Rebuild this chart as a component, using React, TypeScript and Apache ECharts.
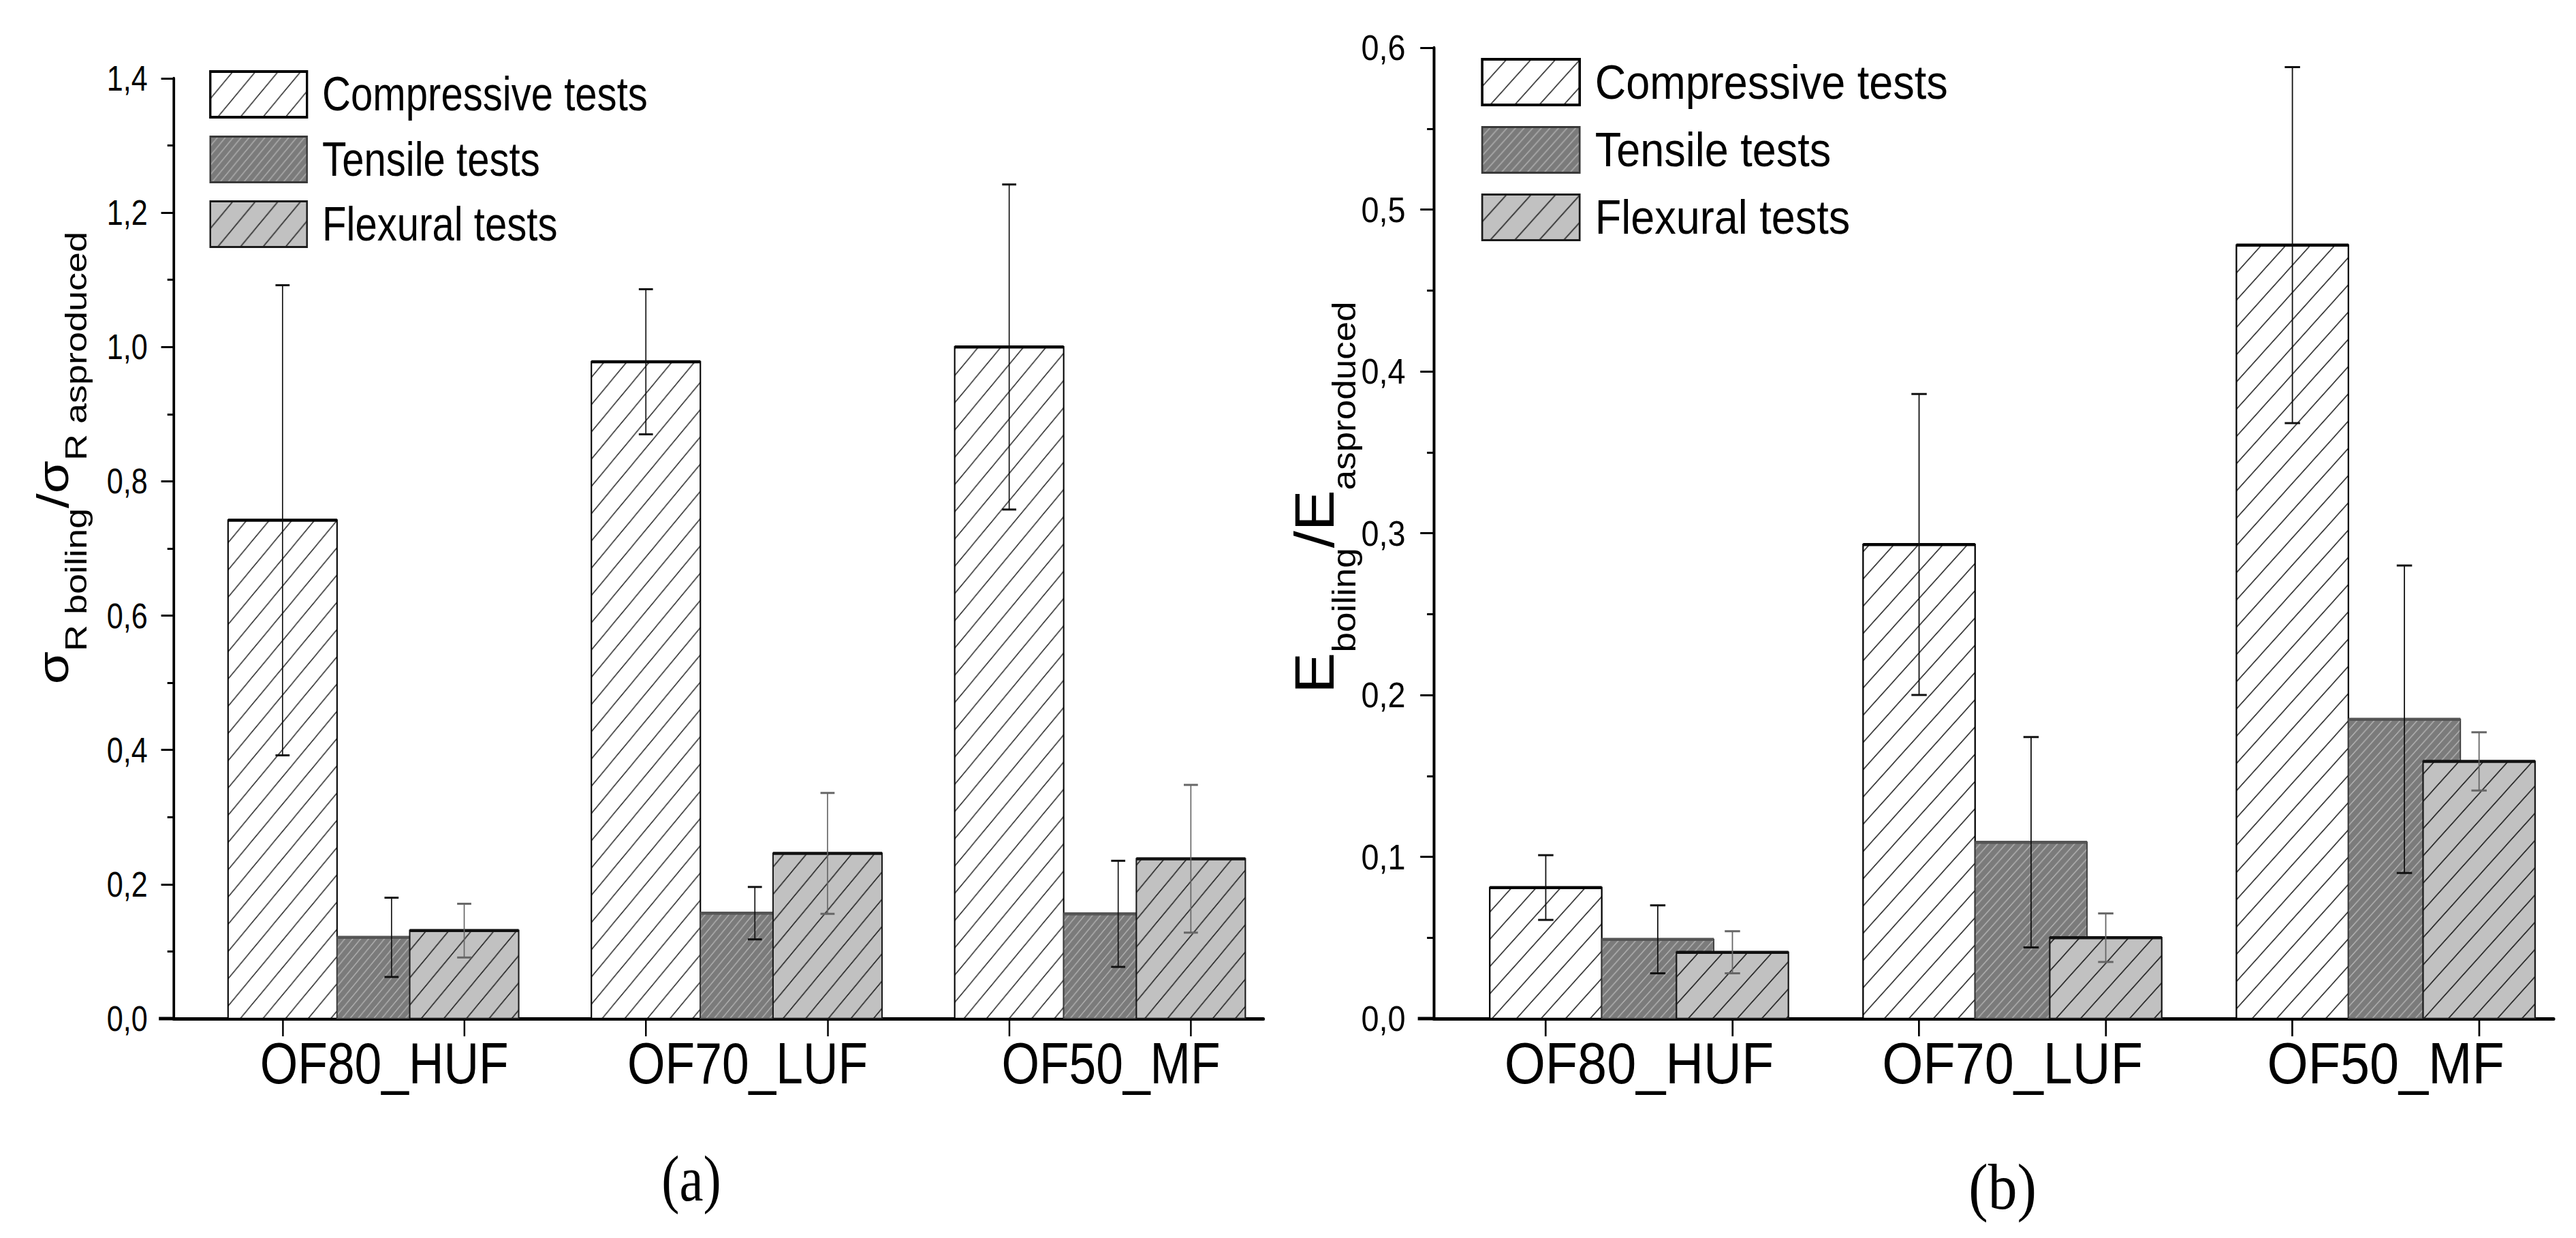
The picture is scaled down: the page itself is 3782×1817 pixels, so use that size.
import React, { useEffect, useRef } from "react";
import * as echarts from "echarts";

// ---------- data ----------
const categories = ["OF80_HUF", "OF70_LUF", "OF50_MF"];
const seriesNames = ["Compressive tests", "Tensile tests", "Flexural tests"];

// (a) sigma_R boiling / sigma_R asproduced
const compStrength = [0.742, 0.978, 1.0];
const compStrengthErr = [0.35, 0.108, 0.242];
const tensStrength = [0.121, 0.157, 0.156];
const tensStrengthErr = [0.059, 0.039, 0.079];
const flexStrength = [0.131, 0.246, 0.238];
const flexStrengthErr = [0.04, 0.09, 0.11];

// (b) E boiling / E asproduced
const compModulus = [0.081, 0.293, 0.478];
const compModulusErr = [0.02, 0.093, 0.11];
const tensModulus = [0.049, 0.109, 0.185];
const tensModulusErr = [0.021, 0.065, 0.095];
const flexModulus = [0.041, 0.05, 0.159];
const flexModulusErr = [0.013, 0.015, 0.018];

const yLabelsA = ["0,0", "0,2", "0,4", "0,6", "0,8", "1,0", "1,2", "1,4"];
const yLabelsB = ["0,0", "0,1", "0,2", "0,3", "0,4", "0,5", "0,6"];

// ---------- layout ----------
const H = 1817;
const FONT = "'Liberation Sans', Arial, Helvetica, sans-serif";
const SERIF = "'Liberation Serif', 'DejaVu Serif', serif";
const GROUP_START = [1, 3, 5];
const OFFSETS = [0, 0.6, 1.0];
const BAR_W = 0.6;
const TICKS_X = [1, 2, 3, 4, 5, 6];

// panel A (left) and panel B (right) are horizontally squashed differently
const PANEL_A = { left: 0, width: 1880, sx: 0.83 };
const PANEL_B = { left: 1880, width: 1902, sx: 0.9 };

function makeHatch(size: number, bg: string, line: string, lw: number) {
  const c = document.createElement("canvas");
  c.width = size;
  c.height = size;
  const ctx = c.getContext("2d")!;
  ctx.fillStyle = bg;
  ctx.fillRect(0, 0, size, size);
  ctx.strokeStyle = line;
  ctx.lineWidth = lw;
  ctx.beginPath();
  for (const k of [0, 1, 2]) {
    const s = size * k;
    ctx.moveTo(s - size - 4, size + 4);
    ctx.lineTo(s + 4, -4);
  }
  ctx.stroke();
  return { image: c.toDataURL(), repeat: "repeat", imageWidth: size, imageHeight: size } as any;
}

type PanelCfg = {
  grid: { left: number; top: number; width: number; height: number };
  yMax: number;
  yInterval: number;
  yLabels: string[];
  labelOff: number;
  values: number[][];
  errors: number[][];
  legend: { left: number; top: number; iconW: number; gap: number; textPad: number };
  title: { x: number; y: number; text: string; big: number; sub: number; lh: number };
  tag: { x: number; y: number; text: string };
};

function buildOption(cfg: PanelCfg) {
  const patComp = makeHatch(40, "#ffffff", "#2a2a2a", 1.6);
  const patTens = makeHatch(14, "#7b7b7b", "#b8b8b8", 1.4);
  const patFlex = makeHatch(40, "#c1c1c1", "#1e1e1e", 1.6);

  const styles = [
    { fill: patComp, stroke: "#000", lw: 2.5, top: "#000", err: "#111" },
    { fill: patTens, stroke: "#3a3a3a", lw: 2, top: "#555", err: "#111" },
    { fill: patFlex, stroke: "#1a1a1a", lw: 2.5, top: "#111", err: "#666" },
  ];

  const mk = (si: number) => {
    const st = styles[si];
    const vals = cfg.values[si];
    const errs = cfg.errors[si];
    return {
      type: "custom",
      name: seriesNames[si],
      data: vals.map((v, i) => [GROUP_START[i] + OFFSETS[si], v, errs[i]]),
      encode: { x: 0, y: 1 },
      itemStyle: { color: st.fill, borderColor: st.stroke, borderWidth: st.lw },
      renderItem: (params: any, api: any) => {
        const x = api.value(0);
        const v = api.value(1);
        const e = api.value(2);
        const tl = api.coord([x - BAR_W / 2, v]);
        const br = api.coord([x + BAR_W / 2, 0]);
        const top = api.coord([x, v + e]);
        const bot = api.coord([x, v - e]);
        const cap = 12.5;
        return {
          type: "group",
          children: [
            {
              type: "rect",
              shape: { x: tl[0], y: tl[1], width: br[0] - tl[0], height: br[1] - tl[1] },
              style: { fill: st.fill, stroke: st.stroke, lineWidth: st.lw },
            },
            {
              type: "line",
              shape: { x1: tl[0], y1: tl[1], x2: br[0], y2: tl[1] },
              style: { stroke: st.top, lineWidth: 4.5 },
            },
            {
              type: "line",
              shape: { x1: top[0], y1: top[1], x2: bot[0], y2: bot[1] },
              style: { stroke: st.err, lineWidth: 2 },
            },
            {
              type: "line",
              shape: { x1: top[0] - cap, y1: top[1], x2: top[0] + cap, y2: top[1] },
              style: { stroke: st.err, lineWidth: 3 },
            },
            {
              type: "line",
              shape: { x1: bot[0] - cap, y1: bot[1], x2: bot[0] + cap, y2: bot[1] },
              style: { stroke: st.err, lineWidth: 3 },
            },
          ],
        };
      },
    };
  };

  const legendData = seriesNames.map((n, i) => ({
    name: n,
    itemStyle: { color: styles[i].fill, borderColor: styles[i].stroke, borderWidth: i === 0 ? 4 : 3 },
  }));

  const g = cfg.grid;
  const axisY = g.top + g.height;

  return {
    animation: false,
    backgroundColor: "#fff",
    grid: { left: g.left, top: g.top, width: g.width, height: g.height },
    xAxis: {
      type: "value",
      min: 0.4,
      max: 6.4,
      splitLine: { show: false },
      axisLine: { show: true, onZero: false, lineStyle: { color: "#000", width: 5 } },
      axisTick: { show: true, customValues: TICKS_X, length: 26, lineStyle: { color: "#000", width: 3 } },
      axisLabel: {
        customValues: GROUP_START.map((s) => s + cfg.labelOff),
        formatter: (v: number) => categories[Math.round((v - cfg.labelOff - 1) / 2)] ?? "",
        fontSize: 86,
        color: "#000",
        fontFamily: FONT,
        margin: 22,
      },
    },
    yAxis: {
      type: "value",
      min: 0,
      max: cfg.yMax,
      interval: cfg.yInterval,
      splitLine: { show: false },
      axisLine: { show: true, lineStyle: { color: "#000", width: 4.5 } },
      axisTick: { show: true, length: 22, lineStyle: { color: "#000", width: 3 } },
      minorTick: { show: true, splitNumber: 2, length: 11, lineStyle: { color: "#000", width: 3 } },
      axisLabel: {
        formatter: (v: number) => cfg.yLabels[Math.round(v / cfg.yInterval)] ?? "",
        fontSize: 52,
        color: "#000",
        fontFamily: FONT,
        margin: 46,
      },
    },
    legend: {
      orient: "vertical",
      left: cfg.legend.left,
      top: cfg.legend.top,
      itemWidth: cfg.legend.iconW,
      itemHeight: 67,
      itemGap: cfg.legend.gap,
      icon: "rect",
      selectedMode: false,
      textStyle: {
        fontSize: 70,
        color: "#000",
        fontFamily: FONT,
        padding: [0, 0, 0, cfg.legend.textPad],
        lineHeight: 67,
      },
      data: legendData,
    },
    series: [mk(0), mk(1), mk(2)],
    graphic: [
      {
        type: "line",
        shape: { x1: g.left - 26, y1: axisY, x2: g.left, y2: axisY },
        style: { stroke: "#000", lineWidth: 5 },
      },
      {
        type: "text",
        x: cfg.title.x,
        y: cfg.title.y,
        rotation: Math.PI / 2,
        style: {
          text: cfg.title.text,
          align: "center",
          verticalAlign: "middle",
          rich: {
            s: { fontSize: cfg.title.big, lineHeight: cfg.title.lh, fontFamily: FONT, fill: "#000" },
            sub: {
              fontSize: cfg.title.sub,
              lineHeight: cfg.title.sub,
              verticalAlign: "bottom",
              fontFamily: FONT,
              fill: "#000",
            },
          },
        },
      },
      {
        type: "text",
        x: cfg.tag.x,
        y: cfg.tag.y,
        style: {
          text: cfg.tag.text,
          align: "center",
          verticalAlign: "middle",
          fontSize: 95,
          fontFamily: SERIF,
          fill: "#000",
        },
      },
    ],
  };
}

const cfgA: PanelCfg = {
  grid: { left: 307, top: 115, width: 1928, height: 1380 },
  yMax: 1.4,
  yInterval: 0.2,
  yLabels: yLabelsA,
  labelOff: 0.56,
  values: [compStrength, tensStrength, flexStrength],
  errors: [compStrengthErr, tensStrengthErr, flexStrengthErr],
  legend: { left: 365, top: 98, iconW: 171, gap: 25, textPad: 22 },
  title: {
    x: 93,
    y: 672,
    text: "{s|σ}{sub|R boiling}{s|/}{s|σ}{sub|R asproduced}",
    big: 78,
    sub: 54,
    lh: 136,
  },
  tag: { x: 1223, y: 1730, text: "(a)" },
};

const cfgB: PanelCfg = {
  grid: { left: 250, top: 70, width: 1827, height: 1425 },
  yMax: 0.6,
  yInterval: 0.1,
  yLabels: yLabelsB,
  labelOff: 0.5,
  values: [compModulus, tensModulus, flexModulus],
  errors: [compModulusErr, tensModulusErr, flexModulusErr],
  legend: { left: 322, top: 80, iconW: 159, gap: 29, textPad: 20 },
  title: {
    x: 55,
    y: 730,
    text: "{s|E}{sub|boiling}{s|/}{s|E}{sub|asproduced}",
    big: 90,
    sub: 53,
    lh: 150,
  },
  tag: { x: 1178, y: 1742, text: "(b)" },
};

function Panel({ cfg, panel }: { cfg: PanelCfg; panel: { left: number; width: number; sx: number } }) {
  const ref = useRef<HTMLDivElement>(null);
  useEffect(() => {
    if (!ref.current) return;
    const chart = echarts.init(ref.current, null, { renderer: "svg" });
    chart.setOption(buildOption(cfg) as any);
    return () => chart.dispose();
  }, [cfg]);
  const w = Math.round(panel.width / panel.sx);
  return (
    <div
      style={{
        position: "absolute",
        left: panel.left,
        top: 0,
        width: panel.width,
        height: H,
        overflow: "hidden",
      }}
    >
      <div
        ref={ref}
        style={{ width: w, height: H, transform: `scaleX(${panel.sx})`, transformOrigin: "0 0" }}
      />
    </div>
  );
}

export default function App() {
  return (
    <div
      style={{
        position: "absolute",
        left: 0,
        top: 0,
        width: 3782,
        height: H,
        overflow: "hidden",
        background: "#fff",
      }}
    >
      <Panel cfg={cfgA} panel={PANEL_A} />
      <Panel cfg={cfgB} panel={PANEL_B} />
    </div>
  );
}
